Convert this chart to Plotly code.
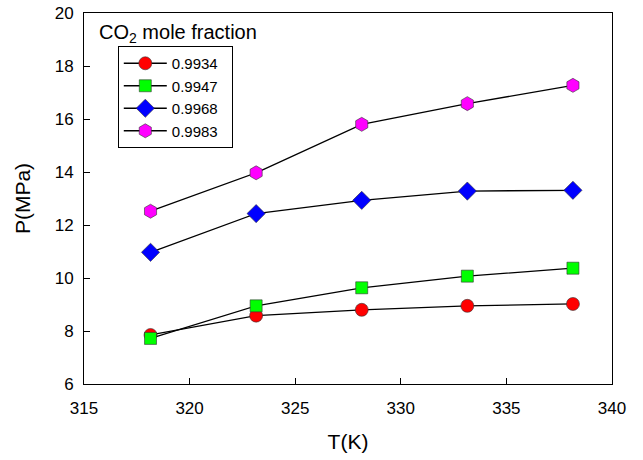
import plotly.graph_objects as go

T = [318.15, 323.15, 328.15, 333.15, 338.15]
series_names = ["0.9934", "0.9947", "0.9968", "0.9983"]
P_9934 = [7.85, 8.58, 8.80, 8.95, 9.02]
P_9947 = [7.72, 8.95, 9.63, 10.07, 10.37]
P_9968 = [10.97, 12.43, 12.93, 13.28, 13.31]
P_9983 = [12.52, 13.97, 15.80, 16.58, 17.27]

values = [P_9934, P_9947, P_9968, P_9983]
colors = ["#ff0000", "#00ff00", "#0000ff", "#ff00ff"]
symbols = ["circle", "square", "diamond", "hexagon"]
sizes = [13, 12, 14, 14]

fig = go.Figure()
for name, ys, c, s, sz in zip(series_names, values, colors, symbols, sizes):
    fig.add_trace(go.Scatter(
        x=T, y=ys, name=name + "\u00a0\u00a0", mode="lines+markers",
        line=dict(color="black", width=1.3),
        marker=dict(symbol=s, size=sz, color=c, line=dict(color="#333333", width=0.6)),
    ))

font = "Liberation Sans, Arial, sans-serif"
fig.update_layout(
    width=643, height=460,
    margin=dict(l=84, r=31, t=13, b=76),
    paper_bgcolor="white", plot_bgcolor="white",
    font=dict(family=font, color="black", size=17),
    showlegend=True,
    legend=dict(
        x=0.064, y=0.911, xanchor="left", yanchor="top",
        bordercolor="black", borderwidth=1, bgcolor="white",
        font=dict(size=15, family=font), itemwidth=43,
        tracegroupgap=0, traceorder="normal",
    ),
    xaxis=dict(
        range=[315, 340], tick0=315, dtick=5, automargin=False,
        showline=True, linecolor="black", linewidth=1, mirror=True,
        ticks="inside", ticklen=6, tickcolor="black",
        showgrid=False, zeroline=False,
        title=dict(text="T(K)", font=dict(size=21), standoff=16),
        ticklabelstandoff=9,
    ),
    yaxis=dict(
        range=[6, 20], tick0=6, dtick=2, automargin=False,
        showline=True, linecolor="black", linewidth=1, mirror=True,
        ticks="inside", ticklen=6, tickcolor="black",
        showgrid=False, zeroline=False,
        title=dict(text="P(MPa)", font=dict(size=21), standoff=18),
        ticklabelstandoff=6,
    ),
    annotations=[dict(
        text="CO<sub>2</sub> mole fraction", x=0.025, y=0.985,
        xref="paper", yref="paper", xanchor="left", yanchor="top",
        showarrow=False, font=dict(size=20, family=font),
    )],
)

fig.write_html("out.html", config={"displayModeBar": False},
               post_script="document.body.style.margin='0px';")
